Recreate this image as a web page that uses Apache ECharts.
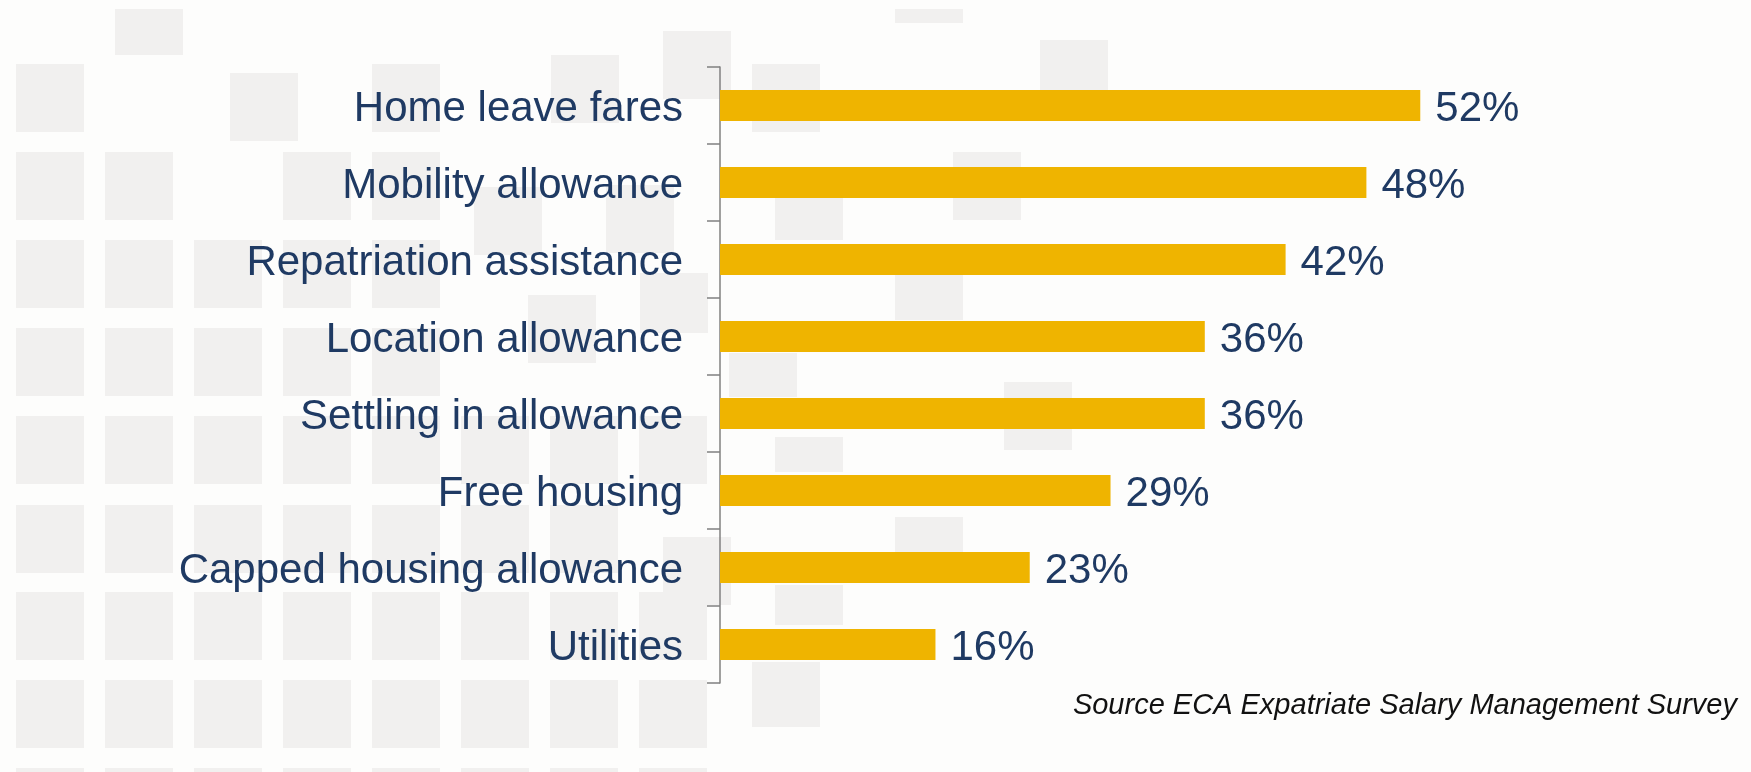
<!DOCTYPE html>
<html>
<head>
<meta charset="utf-8">
<script src="https://cdn.jsdelivr.net/npm/echarts@6/dist/echarts.min.js"></script>
<style>
  html, body { margin: 0; padding: 0; background: #fdfdfc; }
  #chart { width: 1751px; height: 772px; }
</style>
</head>
<body>
<div id="chart"></div>
<script>
// Benefit categories, top to bottom
const categories = [
  'Home leave fares',
  'Mobility allowance',
  'Repatriation assistance',
  'Location allowance',
  'Settling in allowance',
  'Free housing',
  'Capped housing allowance',
  'Utilities'
];
// Share of companies providing each benefit (%)
const shares = [52, 48, 42, 36, 36, 29, 23, 16];
const sourceNote = 'Source ECA Expatriate Salary Management Survey';

// Decorative backdrop tiles: regular grid on the left plus scattered tiles
const TILE = 68;
const tileCols = [16, 105, 194, 283, 372, 461, 550, 639];
const tileRows = [
  { y: 64,  cols: [0, 4] },
  { y: 152, cols: [0, 1, 3, 4] },
  { y: 240, cols: [0, 1, 2, 3, 4] },
  { y: 328, cols: [0, 1, 2, 3, 4] },
  { y: 416, cols: [0, 1, 2, 3, 4, 5, 6, 7] },
  { y: 505, cols: [0, 1, 2, 3, 4, 5, 6] },
  { y: 592, cols: [0, 1, 2, 3, 4, 5, 6, 7] },
  { y: 680, cols: [0, 1, 2, 3, 4, 5, 6, 7] },
  { y: 768, cols: [0, 1, 2, 3, 4, 5, 6, 7] }
];
const looseTiles = [
  [115, 9, TILE, 46], [230, 73, TILE, TILE], [551, 55, TILE, TILE],
  [663, 31, TILE, TILE], [752, 64, TILE, TILE], [474, 187, TILE, TILE],
  [606, 185, TILE, TILE], [775, 198, TILE, 42], [640, 273, TILE, 60],
  [528, 295, TILE, TILE], [729, 353, TILE, 44], [775, 437, TILE, 35],
  [663, 537, TILE, TILE], [775, 585, TILE, 40], [752, 662, TILE, 65],
  [895, 9, TILE, 14], [1040, 40, TILE, 50], [953, 152, TILE, TILE],
  [895, 275, TILE, 45], [1004, 382, TILE, TILE], [895, 517, TILE, 35]
];

const tileColor = '#f1f0ef';
const backdrop = [];
tileRows.forEach(r => r.cols.forEach(c => {
  backdrop.push({ type: 'rect', silent: true, z: -10,
    shape: { x: tileCols[c], y: r.y, width: TILE, height: TILE },
    style: { fill: tileColor } });
}));
looseTiles.forEach(t => {
  backdrop.push({ type: 'rect', silent: true, z: -10,
    shape: { x: t[0], y: t[1], width: t[2], height: t[3] },
    style: { fill: tileColor } });
});

const navy = '#1f3a63';
const fontFamily = '"Liberation Sans", Arial, sans-serif';

const chart = echarts.init(document.getElementById('chart'), null, { renderer: 'canvas' });
chart.setOption({
  backgroundColor: '#fdfdfc',
  animation: false,
  grid: { left: 720, top: 67, width: 808, height: 616, containLabel: false },
  xAxis: {
    type: 'value', min: 0, max: 60, show: false
  },
  yAxis: {
    type: 'category',
    data: categories,
    inverse: true,
    axisLine: { show: true, lineStyle: { color: '#808080', width: 1.5 } },
    axisTick: { show: true, length: 13, lineStyle: { color: '#808080', width: 1.5 } },
    axisLabel: {
      margin: 37, color: navy, fontSize: 42, fontFamily: fontFamily,
      verticalAlign: 'top', lineHeight: 8
    },
    splitLine: { show: false }
  },
  series: [{
    type: 'bar',
    data: shares,
    barWidth: 31,
    itemStyle: { color: '#efb400' },
    label: {
      show: true, position: 'right', distance: 15,
      formatter: '{c}%', color: navy, fontSize: 42, fontFamily: fontFamily,
      verticalAlign: 'top', lineHeight: 8
    }
  }],
  graphic: backdrop.concat([{
    type: 'text', silent: true, z: 10,
    style: {
      text: sourceNote, x: 1737, y: 691, align: 'right', verticalAlign: 'top',
      fill: '#111', fontSize: 29, fontStyle: 'italic', fontFamily: fontFamily
    }
  }])
});
</script>
</body>
</html>
